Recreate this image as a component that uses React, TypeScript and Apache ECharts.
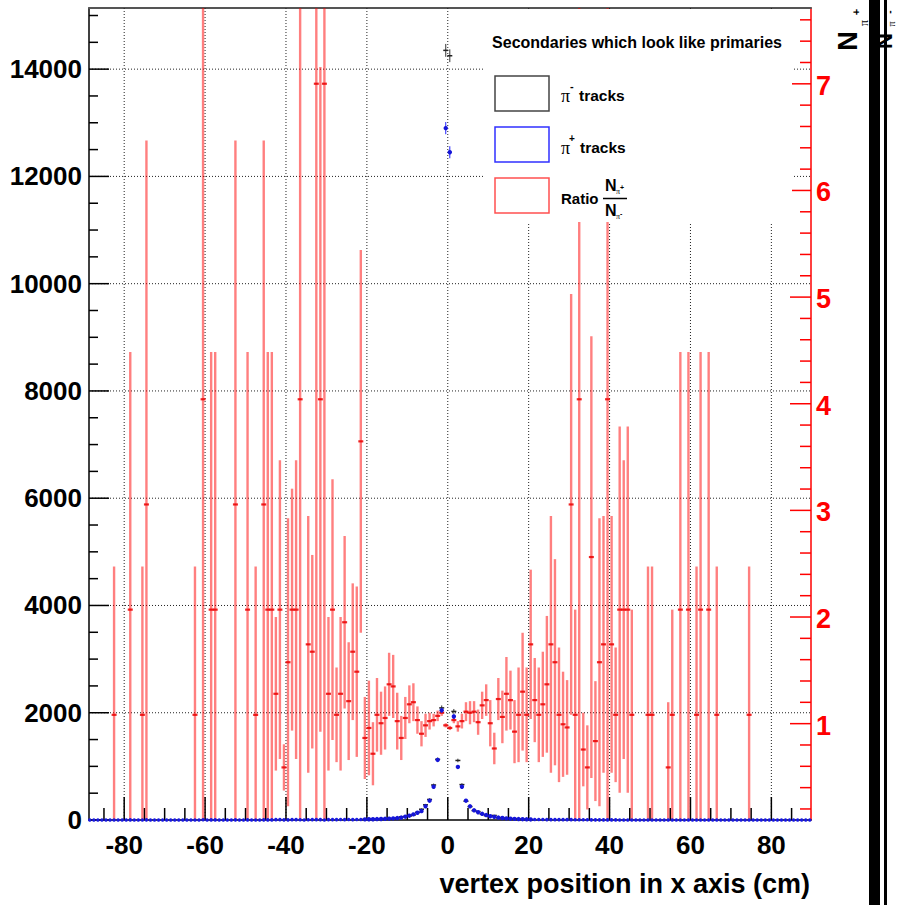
import React, { useEffect, useRef } from "react";
import * as echarts from "echarts";

// ---------- axis ranges ----------
const X_MIN = -88.7;
const X_MAX = 89.8;
const Y_MAX = 15140; // left axis (track counts)
const R_AXIS_MIN = 0.0965; // right red axis as drawn
const R_AXIS_MAX = 7.711;
const RATIO_MAX = 7.72; // scale on which the ratio histogram is drawn

// ---------- tick labels ----------
const xMajorTicks = [-80, -60, -40, -20, 0, 20, 40, 60, 80];
const xMinorTicks = [-85, -75, -70, -65, -55, -50, -45, -35, -30, -25, -15, -10, -5, 5, 10, 15, 25, 30, 35, 45, 50, 55, 65, 70, 75, 85];
const yMajorTicks = [0, 2000, 4000, 6000, 8000, 10000, 12000, 14000];
const yMinorTicks = [500, 1000, 1500, 2500, 3000, 3500, 4500, 5000, 5500, 6500, 7000, 7500, 8500, 9000, 9500, 10500, 11000, 11500, 12500, 13000, 13500, 14500, 15000];
const rMajorTicks = [1, 2, 3, 4, 5, 6, 7];
const rMinorTicks = [0.2, 0.4, 0.6, 0.8, 1.2, 1.4, 1.6, 1.8, 2.2, 2.4, 2.6, 2.8, 3.2, 3.4, 3.6, 3.8, 4.2, 4.4, 4.6, 4.8, 5.2, 5.4, 5.6, 5.8, 6.2, 6.4, 6.6, 6.8, 7.2, 7.4, 7.6];

// ---------- ratio N(pi+)/N(pi-) per 1 cm bin ----------
const ratioX = [
  -82.5, -78.5, -75.5, -74.5, -62.5, -60.5, -58.5, -57.5, -52.5, -49.5, -47.5, -45.5, -44.5, -43.5, -42.5, -41.5, -40.5, -39.5, -38.5, -37.5, -36.5, -34.5, -33.5, -32.5, -31.5, -30.5, -29.5, -28.5, -27.5, -26.5, -25.5, -24.5, -23.5, -22.5, -21.5,
  -20.5, -19.5, -18.5, -17.5, -16.5, -15.5, -14.5, -13.5, -12.5, -11.5, -10.5, -9.5, -8.5, -7.5, -6.5, -5.5, -4.5, -3.5, -2.5, -1.5, -0.5,
  0.5, 1.5, 2.5, 3.5, 4.5, 5.5, 6.5, 7.5, 8.5, 9.5, 10.5, 11.5, 12.5, 13.5, 14.5, 15.5, 16.5, 17.5, 18.5, 19.5, 20.5,
  21.5, 22.5, 23.5, 24.5, 25.5, 26.5, 27.5, 28.5, 29.5, 30.5, 31.5, 32.5, 33.5, 34.5, 35.5, 36.5, 37.5, 38.5, 39.5, 40.5, 41.5, 42.5, 43.5, 44.5, 45.5,
  49.5, 50.5, 54.5, 55.5, 57.5, 59.5, 61.5, 62.5, 64.5, 66.5, 74.5,
];
const ratioVal = [
  1, 2, 1, 3, 1, 4, 2, 2, 3, 2, 1, 3, 2, 2, 1.2, 2, 0.5, 1.5, 2, 2, 4, 1.67, 1.6, 7, 4, 7, 1.2, 2, 1, 1.2, 1.88, 1.13, 1.6, 1.41, 3.6,
  0.78, 0.875, 0.63, 1.0, 0.92, 0.97, 1.29, 1.27, 0.94, 0.78, 0.97, 1.1, 1.12, 0.95, 0.82, 0.9, 0.94, 0.95, 0.99, 1.02, 0.9,
  0.875, 0.95, 0.89, 0.94, 1.03, 1.02, 1.03, 0.93, 1.09, 1.14, 0.92, 0.68, 1.15, 0.98, 1.2, 1.14, 0.84, 1.0, 1.22, 1.0, 1.67,
  1.14, 1.0, 1.1, 1.29, 1.67, 1.5, 1.0, 0.91, 0.88, 3, 1.0, 4, 0.67, 0.5, 2.5, 0.75, 1.5, 1.67, 4, 1.67, 1.0, 2.0, 2.0, 2.0, 1.0,
  1, 1, 0.5, 1, 2, 2, 1, 2, 2, 1, 1,
];
const ratioErr = [
  1.41, 2.45, 1.41, 3.46, 1.41, 4.47, 2.45, 2.45, 3.46, 2.45, 1.41, 3.46, 2.45, 2.45, 0.73, 1.42, 0.22, 1.37, 1.15, 1.42, 4.47, 1.22, 0.92, 7.48, 3.16, 7.48, 0.73, 1.24, 0.45, 0.73, 0.82, 0.56, 0.65, 0.81, 1.82,
  0.39, 0.45, 0.3, 0.35, 0.3, 0.3, 0.3, 0.3, 0.27, 0.21, 0.2, 0.18, 0.18, 0.13, 0.12, 0.11, 0.08, 0.06, 0.05, 0.03, 0.02,
  0.02, 0.03, 0.05, 0.07, 0.09, 0.11, 0.1, 0.12, 0.13, 0.15, 0.22, 0.15, 0.2, 0.25, 0.35, 0.28, 0.3, 0.45, 0.56, 0.45, 0.71,
  0.4, 0.45, 0.5, 0.65, 1.22, 0.98, 0.64, 0.5, 0.45, 2.0, 1.0, 4.47, 0.35, 0.4, 2.1, 0.57, 1.37, 1.22, 4.47, 1.22, 0.64, 1.74, 1.42, 1.74, 1.0,
  1.41, 1.41, 0.62, 1.0, 2.45, 2.45, 1.41, 2.45, 2.45, 1.41, 1.41,
];

// ---------- pi- and pi+ tracks, central bins ----------
const centralBins = [
  -20.5, -19.5, -18.5, -17.5, -16.5, -15.5, -14.5, -13.5, -12.5, -11.5, -10.5, -9.5, -8.5, -7.5, -6.5, -5.5, -4.5, -3.5, -2.5, -1.5, -0.5,
  0.5, 1.5, 2.5, 3.5, 4.5, 5.5, 6.5, 7.5, 8.5, 9.5, 10.5, 11.5, 12.5, 13.5, 14.5, 15.5, 16.5, 17.5, 18.5, 19.5, 20.5,
];
const piMinusCounts = [
  15, 16, 22, 17, 21, 23, 20, 24, 38, 59, 64, 73, 94, 142, 201, 283, 383, 653, 1131, 2090, 14350,
  14250, 2025, 1110, 660, 350, 250, 175, 156, 106, 81, 76, 85, 39, 38, 25, 22, 25, 18, 12, 13, 7,
];
const piMinusErr = [
  4, 4, 5, 4, 5, 5, 4, 5, 6, 8, 8, 9, 10, 12, 14, 17, 20, 26, 34, 46, 120,
  119, 45, 33, 26, 19, 16, 13, 12, 10, 9, 9, 9, 6, 6, 5, 5, 5, 4, 3, 4, 3,
];
const piPlusCounts = [
  12, 14, 14, 17, 19, 22, 26, 30, 36, 46, 62, 80, 105, 135, 165, 255, 360, 620, 1120, 2045, 12900,
  12450, 1930, 990, 620, 360, 255, 180, 145, 115, 92, 70, 58, 45, 37, 30, 25, 21, 18, 15, 13, 11,
];
const piPlusErr = [
  3, 4, 4, 4, 4, 5, 5, 5, 6, 7, 8, 9, 10, 12, 13, 16, 19, 25, 33, 45, 114,
  112, 44, 31, 25, 19, 16, 13, 12, 11, 10, 8, 8, 7, 6, 5, 5, 5, 4, 4, 4, 3,
];
// pi+ tails (1 cm bins), left from -88.5 to -21.5, right from 21.5 to 89.5
const tailLeftStart = -88.5;
const piPlusTailLeft = [
  0, 0, 0, 0, 0, 0, 1, 0, 0, 0, 2, 0, 0, 1, 3, 0, 0, 0, 0, 0, 0, 0, 0, 0, 0, 0, 1, 0, 4, 0, 2, 2, 0, 0,
  0, 0, 3, 0, 0, 2, 0, 1, 0, 3, 2, 2, 6, 6, 3, 3, 6, 8, 4, 0, 5, 8, 8, 7, 0, 8, 7, 7, 9, 6, 9, 8, 9, 10,
];
const tailRightStart = 21.5;
const piPlusTailRight = [
  10, 9, 9, 8, 8, 7, 7, 6, 6, 6, 5, 5, 4, 4, 3, 3, 3, 2, 2, 2, 2, 1, 1, 1, 1, 0, 0, 0, 1, 1, 0, 0, 0, 0, 0,
  1, 0, 0, 0, 0, 0, 0, 0, 0, 1, 0, 0, 0, 0, 0, 0, 0, 0, 0, 0, 0, 0, 0, 0, 0, 0, 0, 0, 0, 0, 0, 0, 0, 0,
];

const FONT = '"Liberation Sans", Arial, Helvetica, sans-serif';
const SERIF = '"Liberation Serif", "DejaVu Serif", serif';

function textEl(x: number, y: number, text: string, o: any = {}) {
  const align = o.align || "left";
  const va = o.va || "middle";
  return {
    type: "text",
    x,
    y,
    rotation: o.rotation || 0,
    z: o.z,
    style: {
      text,
      fill: o.fill || "#000",
      fontSize: o.size || 26,
      fontWeight: o.weight || "bold",
      fontFamily: o.family || FONT,
      align,
      verticalAlign: va,
      textAlign: align,
      textVerticalAlign: va,
    },
  };
}

function buildOption() {
  const baseCustom = {
    type: "custom",
    coordinateSystem: "cartesian2d",
    xAxisIndex: 0,
    clip: false,
    silent: true,
  };

  const series: any[] = [
    // x axis major: grid, tick, label
    {
      ...baseCustom,
      yAxisIndex: 0,
      z: 1,
      data: xMajorTicks.map((v) => [v, 0]),
      renderItem: (params: any, api: any) => {
        const cs = params.coordSys;
        const v = api.value(0);
        const px = api.coord([v, 0])[0];
        const bottom = cs.y + cs.height;
        return {
          type: "group",
          children: [
            { type: "line", shape: { x1: px, y1: cs.y, x2: px, y2: bottom }, style: { stroke: "#222", lineWidth: 1, lineDash: [1, 2] } },
            { type: "line", shape: { x1: px, y1: bottom, x2: px, y2: bottom - 23 }, style: { stroke: "#000", lineWidth: 1.5 } },
            textEl(px, bottom + 25, String(v), { align: "center" }),
          ],
        };
      },
    },
    // x axis minor ticks
    {
      ...baseCustom,
      yAxisIndex: 0,
      z: 1,
      data: xMinorTicks.map((v) => [v, 0]),
      renderItem: (params: any, api: any) => {
        const cs = params.coordSys;
        const px = api.coord([api.value(0), 0])[0];
        const bottom = cs.y + cs.height;
        return { type: "line", shape: { x1: px, y1: bottom, x2: px, y2: bottom - 12 }, style: { stroke: "#000", lineWidth: 1.5 } };
      },
    },
    // left axis major: grid, tick, label
    {
      ...baseCustom,
      yAxisIndex: 0,
      z: 1,
      data: yMajorTicks.map((v) => [0, v]),
      renderItem: (params: any, api: any) => {
        const cs = params.coordSys;
        const v = api.value(1);
        const py = api.coord([0, v])[1];
        const children: any[] = [];
        if (v > 0) {
          children.push({ type: "line", shape: { x1: cs.x, y1: py, x2: cs.x + cs.width, y2: py }, style: { stroke: "#222", lineWidth: 1, lineDash: [1, 2] } });
        }
        children.push({ type: "line", shape: { x1: cs.x, y1: py, x2: cs.x + 20, y2: py }, style: { stroke: "#000", lineWidth: 1.5 } });
        children.push(textEl(cs.x - 7, py, String(v), { align: "right" }));
        return { type: "group", children };
      },
    },
    // left axis minor ticks
    {
      ...baseCustom,
      yAxisIndex: 0,
      z: 1,
      data: yMinorTicks.map((v) => [0, v]),
      renderItem: (params: any, api: any) => {
        const cs = params.coordSys;
        const py = api.coord([0, api.value(1)])[1];
        return { type: "line", shape: { x1: cs.x, y1: py, x2: cs.x + 9, y2: py }, style: { stroke: "#000", lineWidth: 1.5 } };
      },
    },
    // right axis major ticks + labels
    {
      ...baseCustom,
      yAxisIndex: 1,
      z: 1,
      data: rMajorTicks.map((v) => [0, v]),
      renderItem: (params: any, api: any) => {
        const cs = params.coordSys;
        const v = api.value(1);
        const py = api.coord([0, v])[1];
        const xr = cs.x + cs.width;
        return {
          type: "group",
          children: [
            { type: "line", shape: { x1: xr, y1: py, x2: xr - 21, y2: py }, style: { stroke: "#ff0000", lineWidth: 1.5 } },
            textEl(xr + 5, py + 2, String(v), { align: "left", fill: "#ff0000", size: 27 }),
          ],
        };
      },
    },
    // right axis minor ticks
    {
      ...baseCustom,
      yAxisIndex: 1,
      z: 1,
      data: rMinorTicks.map((v) => [0, v]),
      renderItem: (params: any, api: any) => {
        const cs = params.coordSys;
        const py = api.coord([0, api.value(1)])[1];
        const xr = cs.x + cs.width;
        return { type: "line", shape: { x1: xr, y1: py, x2: xr - 11, y2: py }, style: { stroke: "#ff0000", lineWidth: 1.5 } };
      },
    },
    // ratio histogram (red error bars)
    {
      ...baseCustom,
      yAxisIndex: 2,
      z: 3,
      data: ratioX.map((x, i) => [x, ratioVal[i], ratioErr[i]]),
      renderItem: (params: any, api: any) => {
        const cs = params.coordSys;
        const x = api.value(0);
        const v = api.value(1);
        const e = api.value(2);
        const p = api.coord([x, v]);
        const yTop = Math.max(api.coord([x, v + e])[1], cs.y);
        const yBot = Math.min(api.coord([x, v - e])[1], cs.y + cs.height);
        return {
          type: "group",
          children: [
            { type: "line", shape: { x1: p[0], y1: yTop, x2: p[0], y2: yBot }, style: { stroke: "rgba(255,0,0,0.5)", lineWidth: 2.4 } },
            { type: "rect", shape: { x: p[0] - 2.5, y: p[1] - 1.1, width: 5, height: 2.2 }, style: { fill: "rgba(235,0,0,0.85)" } },
          ],
        };
      },
    },
    // pi- tracks (black)
    {
      ...baseCustom,
      yAxisIndex: 0,
      z: 4,
      data: centralBins.map((x, i) => [x, piMinusCounts[i], piMinusErr[i]]),
      renderItem: (params: any, api: any) => {
        const x = api.value(0);
        const v = api.value(1);
        const e = api.value(2);
        const p = api.coord([x, v]);
        const t = api.coord([x, v + e])[1];
        const b = api.coord([x, v - e])[1];
        return {
          type: "group",
          children: [
            { type: "line", shape: { x1: p[0], y1: t, x2: p[0], y2: b }, style: { stroke: "#333", lineWidth: 1 } },
            { type: "line", shape: { x1: p[0] - 2.5, y1: p[1], x2: p[0] + 2.5, y2: p[1] }, style: { stroke: "#222", lineWidth: 1.5 } },
          ],
        };
      },
    },
    // pi+ tracks (blue), central bins
    {
      ...baseCustom,
      yAxisIndex: 0,
      z: 5,
      data: centralBins.map((x, i) => [x, piPlusCounts[i], piPlusErr[i]]),
      renderItem: (params: any, api: any) => {
        const x = api.value(0);
        const v = api.value(1);
        const e = api.value(2);
        const p = api.coord([x, v]);
        const t = api.coord([x, v + e])[1];
        const b = api.coord([x, v - e])[1];
        return {
          type: "group",
          children: [
            { type: "line", shape: { x1: p[0], y1: t, x2: p[0], y2: b }, style: { stroke: "#2020ff", lineWidth: 1 } },
            { type: "circle", shape: { cx: p[0], cy: p[1], r: 2.2 }, style: { fill: "#1515d8" } },
          ],
        };
      },
    },
    // pi+ tails
    {
      ...baseCustom,
      yAxisIndex: 0,
      z: 5,
      data: [
        ...piPlusTailLeft.map((v, i) => [tailLeftStart + i, v]),
        ...piPlusTailRight.map((v, i) => [tailRightStart + i, v]),
      ],
      renderItem: (params: any, api: any) => {
        const p = api.coord([api.value(0), api.value(1)]);
        return { type: "circle", shape: { cx: p[0], cy: p[1], r: 1.8 }, style: { fill: "#1a1ae0" } };
      },
    },
  ];

  const legendZ = 100;
  const graphic: any[] = [
    { type: "rect", z: legendZ, shape: { x: 483, y: 9, width: 309, height: 213 }, style: { fill: "#ffffff" } },
    textEl(637, 42, "Secondaries which look like primaries", { align: "center", size: 16, z: legendZ + 1 }),
    { type: "rect", z: legendZ + 1, shape: { x: 495, y: 76, width: 54, height: 35 }, style: { fill: "none", stroke: "#444", lineWidth: 1.5 } },
    { type: "rect", z: legendZ + 1, shape: { x: 495, y: 127, width: 54, height: 35 }, style: { fill: "none", stroke: "#3030ff", lineWidth: 1.5 } },
    { type: "rect", z: legendZ + 1, shape: { x: 495, y: 178, width: 54, height: 35 }, style: { fill: "none", stroke: "#ff5050", lineWidth: 1.5 } },
    textEl(561, 96, "π", { size: 18, weight: "normal", family: SERIF, z: legendZ + 1 }),
    textEl(570, 86, "-", { size: 11, z: legendZ + 1 }),
    textEl(579, 95, "tracks", { size: 15.5, z: legendZ + 1 }),
    textEl(561, 148, "π", { size: 18, weight: "normal", family: SERIF, z: legendZ + 1 }),
    textEl(569, 138, "+", { size: 10, z: legendZ + 1 }),
    textEl(580, 147, "tracks", { size: 15.5, z: legendZ + 1 }),
    textEl(561, 198, "Ratio", { size: 15, z: legendZ + 1 }),
    textEl(605, 185, "N", { size: 16, z: legendZ + 1 }),
    textEl(616, 191, "π", { size: 8, weight: "normal", family: SERIF, z: legendZ + 1 }),
    textEl(620, 187, "+", { size: 7, z: legendZ + 1 }),
    { type: "line", z: legendZ + 1, shape: { x1: 603, y1: 198.5, x2: 627, y2: 198.5 }, style: { stroke: "#000", lineWidth: 1.5 } },
    textEl(605, 210, "N", { size: 16, z: legendZ + 1 }),
    textEl(616, 216, "π", { size: 8, weight: "normal", family: SERIF, z: legendZ + 1 }),
    textEl(620, 213, "-", { size: 7, z: legendZ + 1 }),
    // right axis title (partially visible) and the black bars
    { type: "rect", z: legendZ, shape: { x: 869, y: 0, width: 11, height: 905 }, style: { fill: "#000" } },
    { type: "rect", z: legendZ, shape: { x: 884, y: 0, width: 3, height: 905 }, style: { fill: "#000" } },
    textEl(848, 41, "N", { align: "center", size: 27, rotation: Math.PI / 2, z: legendZ + 1 }),
    textEl(864, 23, "π", { align: "center", size: 12, weight: "normal", family: SERIF, rotation: Math.PI / 2, z: legendZ + 1 }),
    textEl(856, 12, "+", { align: "center", size: 11, rotation: Math.PI / 2, z: legendZ + 1 }),
    textEl(884, 41, "N", { align: "center", size: 22, rotation: Math.PI / 2, z: legendZ + 1 }),
    textEl(889, 12, "-", { align: "center", size: 10, rotation: Math.PI / 2, z: legendZ + 1 }),
    textEl(891, 24, "π", { align: "center", size: 10, weight: "normal", family: SERIF, rotation: Math.PI / 2, z: legendZ + 1 }),
    // x axis title
    textEl(810, 884, "vertex position in x axis (cm)", { align: "right", size: 27 }),
  ];

  return {
    animation: false,
    backgroundColor: "#ffffff",
    grid: { left: 89, top: 8, width: 722, height: 812, containLabel: false },
    xAxis: [
      {
        type: "value", min: X_MIN, max: X_MAX, position: "bottom",
        axisLine: { show: true, onZero: false, lineStyle: { color: "#000", width: 1.5 } },
        axisTick: { show: false }, axisLabel: { show: false }, splitLine: { show: false },
      },
      {
        type: "value", min: X_MIN, max: X_MAX, position: "top",
        axisLine: { show: true, onZero: false, lineStyle: { color: "#555", width: 2 } },
        axisTick: { show: false }, axisLabel: { show: false }, splitLine: { show: false },
      },
    ],
    yAxis: [
      {
        type: "value", min: 0, max: Y_MAX, position: "left",
        axisLine: { show: true, onZero: false, lineStyle: { color: "#000", width: 1.5 } },
        axisTick: { show: false }, axisLabel: { show: false }, splitLine: { show: false },
      },
      {
        type: "value", min: R_AXIS_MIN, max: R_AXIS_MAX, position: "right",
        axisLine: { show: true, onZero: false, lineStyle: { color: "#ff0000", width: 1.5 } },
        axisTick: { show: false }, axisLabel: { show: false }, splitLine: { show: false },
      },
      {
        type: "value", min: 0, max: RATIO_MAX, position: "left", show: false,
        axisLine: { show: false, onZero: false }, splitLine: { show: false },
      },
    ],
    series,
    graphic: { elements: graphic },
  };
}

export default function App() {
  const ref = useRef<HTMLDivElement>(null);
  useEffect(() => {
    document.body.style.margin = "0";
    const chart = echarts.init(ref.current as HTMLDivElement, null, { renderer: "svg" });
    chart.setOption(buildOption() as any);
    return () => chart.dispose();
  }, []);
  return <div ref={ref} style={{ width: 897, height: 905, background: "#fff" }} />;
}
